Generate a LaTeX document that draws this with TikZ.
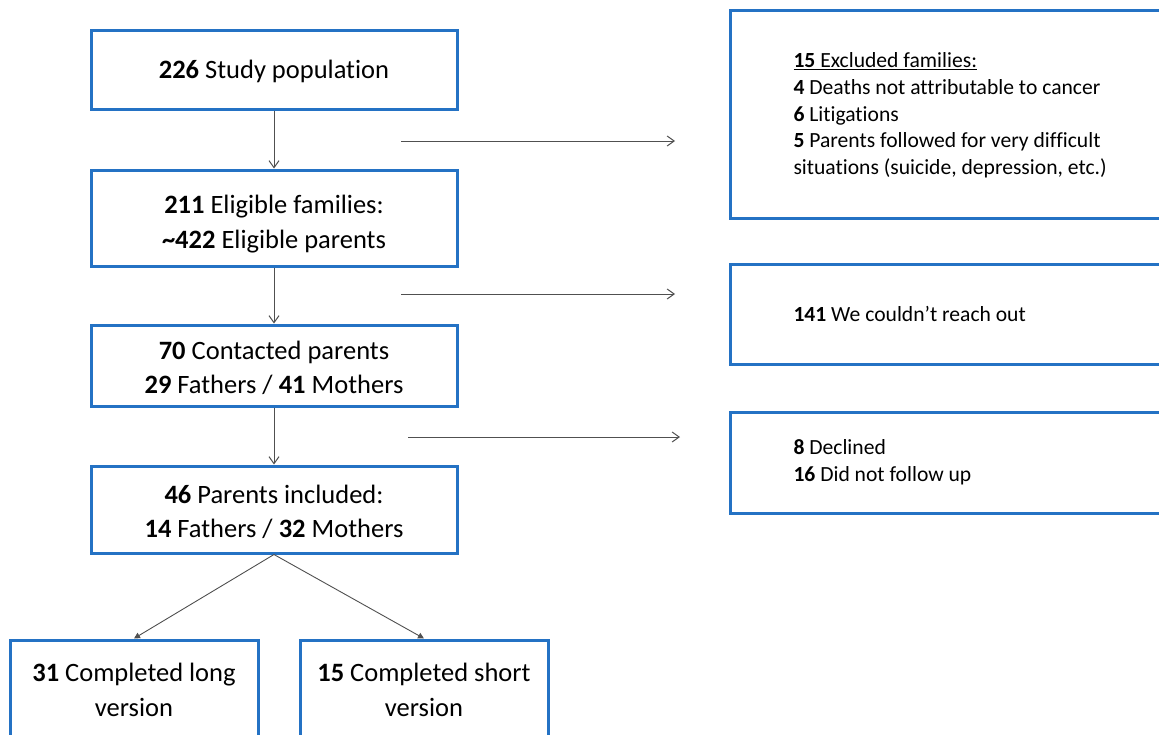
\documentclass[tikz,border=0pt]{standalone}
\usepackage{fontspec}
\setmainfont{Carlito}[Ligatures=NoCommon]
\usetikzlibrary{arrows.meta}
\definecolor{boxblue}{RGB}{36,114,196}
\definecolor{linegray}{RGB}{80,80,80}
\newcommand\lowerby[2]{\raisebox{0pt}[\dimexpr\height+#1\relax]{#2}}
\begin{document}
\begin{tikzpicture}[x=1pt,y=-1pt,
  mainbox/.style={draw=boxblue, line width=3pt, align=center, inner sep=0pt, font=\fontsize{26.5}{34.5}\selectfont, minimum width=366pt},
  sidebox/.style={draw=boxblue, line width=3pt, align=flush left, anchor=west, text width=380pt, inner xsep=63pt, inner ysep=0pt, font=\fontsize{21.6}{26.7}\selectfont},
  flow/.style={draw=linegray, line width=1pt, -{Straight Barb[length=7pt,width=10pt]}},
  split/.style={draw=linegray, line width=0.9pt, -{Triangle[length=6pt,width=6pt]}}]
\useasboundingbox (0,0) rectangle (1159,734);
\fill[white] (0,0) rectangle (1159,734);

\node[mainbox, minimum height=79pt] (b1) at (274,69.5) {\lowerby{4pt}{\textbf{226} Study population}};
\node[mainbox, minimum height=96pt] (b2) at (274,218) {\lowerby{12pt}{\textbf{211} Eligible families:}\\\textbf{\textasciitilde422} Eligible parents};
\node[mainbox, minimum height=81pt] (b3) at (274,365.5) {\lowerby{5pt}{\textbf{70} Contacted parents}\\\textbf{29} Fathers / \textbf{41} Mothers};
\node[mainbox, minimum height=87pt] (b4) at (274,509.5) {\lowerby{5pt}{\textbf{46} Parents included:}\\\textbf{14} Fathers / \textbf{32} Mothers};
\node[mainbox, minimum width=248pt, minimum height=100pt] (b5) at (134,690) {\textbf{31} Completed long\\version};
\node[mainbox, minimum width=248pt, minimum height=100pt] (b6) at (424,690) {\textbf{15} Completed short\\version};

\node[sidebox, minimum height=208pt] (r1) at (729,114) {\lowerby{3pt}{\underline{\textbf{15} Excluded families:}}\\\textbf{4} Deaths not attributable to cancer\\\textbf{6} Litigations\\\textbf{5} Parents followed for very difficult\\situations (suicide, depression, etc.)};
\node[sidebox, minimum height=100pt] (r2) at (729,314) {\textbf{141} We couldn’t reach out};
\node[sidebox, minimum height=101pt] (r3) at (729,462.5) {\textbf{8} Declined\\\textbf{16} Did not follow up};

\draw[flow] (b1) -- (b2);
\draw[flow] (b2) -- (b3);
\draw[flow] (b3) -- (b4);

\coordinate (h1s) at (401,141);
\coordinate (h1e) at (675,141);
\coordinate (h2s) at (401,294);
\coordinate (h2e) at (675,294);
\coordinate (h3s) at (408,437);
\coordinate (h3e) at (680,437);
\draw[flow] (h1s) -- (h1e);
\draw[flow] (h2s) -- (h2e);
\draw[flow] (h3s) -- (h3e);

\draw[split] (b4.south) -- (b5.north);
\draw[split] (b4.south) -- (b6.north);
\end{tikzpicture}
\end{document}
